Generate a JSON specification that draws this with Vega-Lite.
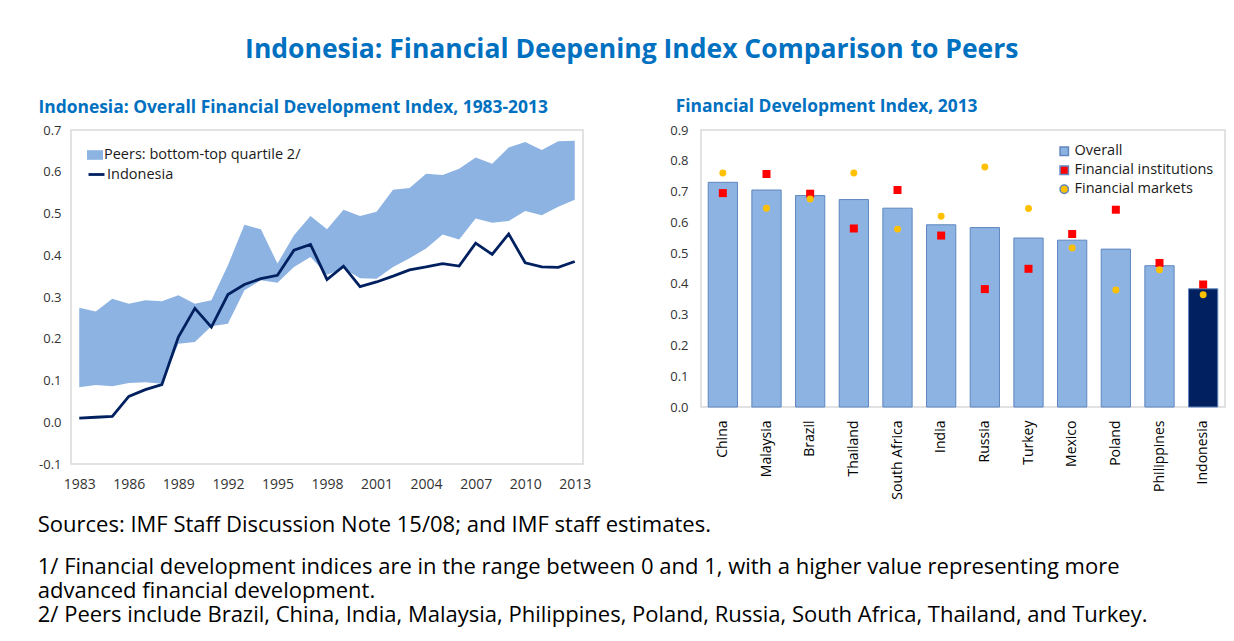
{
  "$schema": "https://vega.github.io/schema/vega-lite/v6.json",
  "padding": {"left": 37, "top": 37, "right": 5, "bottom": 5},
  "background": "white",
  "title": {
    "text": "Indonesia: Financial Deepening Index Comparison to Peers",
    "anchor": "middle",
    "font": "Open Sans",
    "fontSize": 26.5,
    "fontWeight": "bold",
    "color": "#0070C0",
    "offset": 33
  },
  "config": {
    "font": "Open Sans",
    "view": {"stroke": "#D9D9D9", "strokeWidth": 1.5},
    "axis": {"labelColor": "#333333", "labelFontSize": 14, "ticks": false, "domain": false, "grid": false, "title": null},
    "legend": {"labelFontSize": 14.5, "labelColor": "#1a1a1a", "title": null, "padding": 0, "labelOffset": 1, "labelLimit": 400},
    "title": {"font": "Open Sans"}
  },
  "resolve": {
    "scale": {"color": "independent", "fill": "independent", "stroke": "independent", "shape": "independent", "size": "independent"},
    "legend": {"color": "independent", "fill": "independent", "stroke": "independent", "shape": "independent", "size": "independent"}
  },
  "vconcat": [
    {
      "title": {
        "text": "Sources: IMF Staff Discussion Note 15/08; and IMF staff estimates.",
        "subtitle": [
          "1/ Financial development indices are in the range between 0 and 1, with a higher value representing more",
          "advanced financial development.",
          "2/ Peers include Brazil, China, India, Malaysia, Philippines, Poland, Russia, South Africa, Thailand, and Turkey."
        ],
        "orient": "bottom",
        "anchor": "start",
        "frame": "bounds",
        "fontSize": 22,
        "fontWeight": "normal",
        "color": "#000000",
        "lineHeight": 24,
        "subtitleFont": "Open Sans",
        "subtitleFontSize": 22,
        "subtitleColor": "#000000",
        "subtitleLineHeight": 24,
        "subtitlePadding": 20,
        "offset": 15
      },
      "spacing": 76,
      "resolve": {
        "scale": {"color": "independent", "fill": "independent", "stroke": "independent", "shape": "independent", "size": "independent"},
        "legend": {"color": "independent", "fill": "independent", "stroke": "independent", "shape": "independent", "size": "independent"}
      },
      "hconcat": [
        {
          "title": {
            "text": "Indonesia: Overall Financial Development Index, 1983-2013",
            "anchor": "start",
            "frame": "bounds",
            "fontSize": 17.4,
            "fontWeight": "bold",
            "color": "#0070C0",
            "offset": 8
          },
          "width": 512,
          "height": 334,
          "data": {
            "values": [
              {"year": 1983, "lo": 0.084, "hi": 0.274, "indo": 0.010},
              {"year": 1984, "lo": 0.089, "hi": 0.265, "indo": 0.012},
              {"year": 1985, "lo": 0.086, "hi": 0.296, "indo": 0.014},
              {"year": 1986, "lo": 0.094, "hi": 0.284, "indo": 0.062},
              {"year": 1987, "lo": 0.096, "hi": 0.292, "indo": 0.078},
              {"year": 1988, "lo": 0.092, "hi": 0.290, "indo": 0.090},
              {"year": 1989, "lo": 0.188, "hi": 0.304, "indo": 0.204},
              {"year": 1990, "lo": 0.192, "hi": 0.284, "indo": 0.273},
              {"year": 1991, "lo": 0.230, "hi": 0.292, "indo": 0.228},
              {"year": 1992, "lo": 0.236, "hi": 0.376, "indo": 0.306},
              {"year": 1993, "lo": 0.316, "hi": 0.473, "indo": 0.330},
              {"year": 1994, "lo": 0.340, "hi": 0.462, "indo": 0.344},
              {"year": 1995, "lo": 0.334, "hi": 0.380, "indo": 0.352},
              {"year": 1996, "lo": 0.372, "hi": 0.448, "indo": 0.412},
              {"year": 1997, "lo": 0.396, "hi": 0.494, "indo": 0.426},
              {"year": 1998, "lo": 0.353, "hi": 0.462, "indo": 0.342},
              {"year": 1999, "lo": 0.368, "hi": 0.509, "indo": 0.374},
              {"year": 2000, "lo": 0.345, "hi": 0.494, "indo": 0.325},
              {"year": 2001, "lo": 0.344, "hi": 0.504, "indo": 0.336},
              {"year": 2002, "lo": 0.372, "hi": 0.557, "indo": 0.350},
              {"year": 2003, "lo": 0.393, "hi": 0.561, "indo": 0.365},
              {"year": 2004, "lo": 0.416, "hi": 0.595, "indo": 0.372},
              {"year": 2005, "lo": 0.450, "hi": 0.592, "indo": 0.380},
              {"year": 2006, "lo": 0.438, "hi": 0.607, "indo": 0.374},
              {"year": 2007, "lo": 0.488, "hi": 0.634, "indo": 0.429},
              {"year": 2008, "lo": 0.478, "hi": 0.619, "indo": 0.402},
              {"year": 2009, "lo": 0.482, "hi": 0.658, "indo": 0.451},
              {"year": 2010, "lo": 0.506, "hi": 0.671, "indo": 0.382},
              {"year": 2011, "lo": 0.496, "hi": 0.652, "indo": 0.372},
              {"year": 2012, "lo": 0.516, "hi": 0.673, "indo": 0.371},
              {"year": 2013, "lo": 0.533, "hi": 0.674, "indo": 0.385}
            ]
          },
          "encoding": {
            "x": {
              "field": "year",
              "type": "quantitative",
              "scale": {"domain": [1982.5, 2013.5], "nice": false, "zero": false},
              "axis": {"values": [1983, 1986, 1989, 1992, 1995, 1998, 2001, 2004, 2007, 2010, 2013], "format": "d", "labelPadding": 13, "labelFlush": false}
            }
          },
          "layer": [
            {
              "mark": {"type": "area", "opacity": 1},
              "encoding": {
                "y": {
                  "field": "lo",
                  "type": "quantitative",
                  "scale": {"domain": [-0.1, 0.7], "nice": false, "zero": false},
                  "axis": {
                    "values": [-0.1, 0, 0.1, 0.2, 0.3, 0.4, 0.5, 0.6, 0.7],
                    "labelExpr": "datum.value < 0 ? '-' + format(-datum.value, '.1f') : format(datum.value, '.1f')",
                    "labelFontSize": 13,
                    "labelPadding": 10
                  }
                },
                "y2": {"field": "hi"},
                "fill": {
                  "datum": "Peers: bottom-top quartile 2/",
                  "type": "nominal",
                  "scale": {"range": ["#8DB3E2"]},
                  "legend": {"orient": "none", "legendX": 16, "legendY": 17, "symbolType": "M-1,-0.6H1V0.6H-1Z", "symbolSize": 256, "symbolStrokeWidth": 0}
                }
              }
            },
            {
              "mark": {"type": "rule", "color": "#D9D9D9", "strokeWidth": 1.5},
              "encoding": {"y": {"datum": 0, "type": "quantitative"}}
            },
            {
              "mark": {"type": "line", "strokeWidth": 2.8},
              "encoding": {
                "y": {"field": "indo", "type": "quantitative"},
                "stroke": {
                  "datum": "Indonesia",
                  "type": "nominal",
                  "scale": {"range": ["#002060"]},
                  "legend": {"orient": "none", "legendX": 16, "legendY": 35, "symbolType": "stroke", "symbolSize": 256, "symbolStrokeWidth": 2.8}
                }
              }
            }
          ]
        },
        {
          "title": {
            "text": "Financial Development Index, 2013",
            "anchor": "start",
            "frame": "bounds",
            "fontSize": 17.4,
            "fontWeight": "bold",
            "color": "#0070C0",
            "offset": 9,
            "dx": 6
          },
          "width": 524,
          "height": 277,
          "data": {
            "values": [
              {"country": "China", "measure": "Overall", "value": 0.730},
              {"country": "China", "measure": "Financial institutions", "value": 0.695},
              {"country": "China", "measure": "Financial markets", "value": 0.760},
              {"country": "Malaysia", "measure": "Overall", "value": 0.705},
              {"country": "Malaysia", "measure": "Financial institutions", "value": 0.757},
              {"country": "Malaysia", "measure": "Financial markets", "value": 0.646},
              {"country": "Brazil", "measure": "Overall", "value": 0.687},
              {"country": "Brazil", "measure": "Financial institutions", "value": 0.693},
              {"country": "Brazil", "measure": "Financial markets", "value": 0.676},
              {"country": "Thailand", "measure": "Overall", "value": 0.674},
              {"country": "Thailand", "measure": "Financial institutions", "value": 0.580},
              {"country": "Thailand", "measure": "Financial markets", "value": 0.760},
              {"country": "South Africa", "measure": "Overall", "value": 0.646},
              {"country": "South Africa", "measure": "Financial institutions", "value": 0.705},
              {"country": "South Africa", "measure": "Financial markets", "value": 0.578},
              {"country": "India", "measure": "Overall", "value": 0.592},
              {"country": "India", "measure": "Financial institutions", "value": 0.557},
              {"country": "India", "measure": "Financial markets", "value": 0.620},
              {"country": "Russia", "measure": "Overall", "value": 0.583},
              {"country": "Russia", "measure": "Financial institutions", "value": 0.383},
              {"country": "Russia", "measure": "Financial markets", "value": 0.780},
              {"country": "Turkey", "measure": "Overall", "value": 0.549},
              {"country": "Turkey", "measure": "Financial institutions", "value": 0.449},
              {"country": "Turkey", "measure": "Financial markets", "value": 0.645},
              {"country": "Mexico", "measure": "Overall", "value": 0.542},
              {"country": "Mexico", "measure": "Financial institutions", "value": 0.562},
              {"country": "Mexico", "measure": "Financial markets", "value": 0.517},
              {"country": "Poland", "measure": "Overall", "value": 0.513},
              {"country": "Poland", "measure": "Financial institutions", "value": 0.641},
              {"country": "Poland", "measure": "Financial markets", "value": 0.380},
              {"country": "Philippines", "measure": "Overall", "value": 0.459},
              {"country": "Philippines", "measure": "Financial institutions", "value": 0.468},
              {"country": "Philippines", "measure": "Financial markets", "value": 0.446},
              {"country": "Indonesia", "measure": "Overall", "value": 0.384},
              {"country": "Indonesia", "measure": "Financial institutions", "value": 0.398},
              {"country": "Indonesia", "measure": "Financial markets", "value": 0.365}
            ]
          },
          "encoding": {
            "x": {
              "field": "country",
              "type": "nominal",
              "sort": ["China", "Malaysia", "Brazil", "Thailand", "South Africa", "India", "Russia", "Turkey", "Mexico", "Poland", "Philippines", "Indonesia"],
              "scale": {"paddingInner": 0.33, "paddingOuter": 0.165},
              "axis": {"labelAngle": -90, "labelPadding": 13, "labelColor": "#000000"}
            },
            "y": {
              "field": "value",
              "type": "quantitative",
              "scale": {"domain": [0, 0.9], "nice": false},
              "axis": {"values": [0, 0.1, 0.2, 0.3, 0.4, 0.5, 0.6, 0.7, 0.8, 0.9], "format": ".1f", "labelFontSize": 13, "labelPadding": 13}
            }
          },
          "layer": [
            {
              "transform": [{"filter": "datum.measure === 'Overall'"}],
              "mark": {"type": "bar", "stroke": "#5F86BF", "strokeWidth": 1},
              "encoding": {
                "color": {
                  "condition": {"test": "datum.country === 'Indonesia'", "value": "#002060"},
                  "field": "measure",
                  "type": "nominal",
                  "scale": {"domain": ["Overall", "Financial institutions", "Financial markets"], "range": ["#8DB3E2", "#FF0000", "#FFC000"]},
                  "legend": {"orient": "none", "legendX": 356, "legendY": 14, "symbolSize": 70, "rowPadding": 3, "labelOffset": 3}
                }
              }
            },
            {
              "transform": [{"filter": "datum.measure !== 'Overall'"}],
              "mark": {"type": "point", "filled": true, "opacity": 1},
              "encoding": {
                "color": {"field": "measure", "type": "nominal"},
                "shape": {
                  "field": "measure",
                  "type": "nominal",
                  "scale": {"domain": ["Overall", "Financial institutions", "Financial markets"], "range": ["square", "square", "circle"]},
                  "legend": {"orient": "none", "legendX": 356, "legendY": 14, "symbolSize": 70, "rowPadding": 3, "labelOffset": 3}
                },
                "size": {
                  "field": "measure",
                  "type": "nominal",
                  "scale": {"domain": ["Financial institutions", "Financial markets"], "range": [64, 48]},
                  "legend": null
                }
              }
            }
          ]
        }
      ]
    }
  ]
}
